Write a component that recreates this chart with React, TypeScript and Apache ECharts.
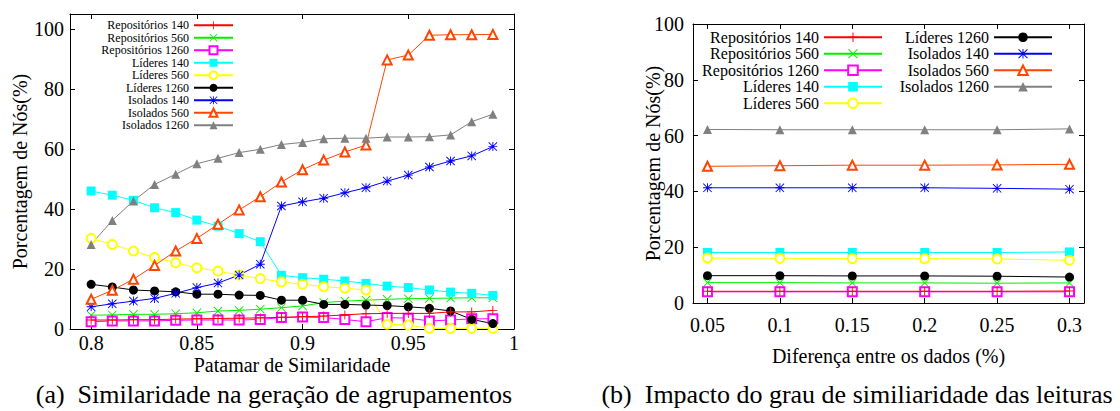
import React, { useEffect, useRef } from "react";
import * as echarts from "echarts";

// ---------- data ----------
const seriesNames = [
  "Repositórios 140",
  "Repositórios 560",
  "Repositórios 1260",
  "Líderes 140",
  "Líderes 560",
  "Líderes 1260",
  "Isolados 140",
  "Isolados 560",
  "Isolados 1260",
];

// (a) similarity threshold
const simX = [0.8, 0.81, 0.82, 0.83, 0.84, 0.85, 0.86, 0.87, 0.88, 0.89, 0.9, 0.91, 0.92, 0.93, 0.94, 0.95, 0.96, 0.97, 0.98, 0.99];
const rep140A = [3.0, 3.0, 3.1, 3.1, 3.3, 3.4, 3.5, 3.6, 3.7, 3.9, 4.1, 4.3, 4.7, 5.1, 5.2, 5.2, 5.2, 5.7, 5.7, 6.2];
const rep560A = [4.6, 4.7, 4.9, 4.9, 5.1, 5.4, 6.0, 6.2, 6.6, 7.1, 7.7, 8.8, 9.3, 9.6, 9.9, 10.1, 10.2, 10.3, 10.4, 10.4];
const rep1260A = [2.4, 2.7, 2.7, 2.7, 2.9, 3.0, 3.0, 3.0, 3.2, 3.8, 4.0, 3.8, 3.2, 2.4, 3.8, 3.6, 2.7, 3.0, 3.4, 3.4];
const lid140A = [46.0, 44.6, 42.9, 40.4, 38.8, 36.3, 34.3, 31.8, 29.1, 17.9, 17.1, 16.6, 16.0, 15.2, 14.3, 13.8, 13.0, 12.3, 11.9, 11.2];
const lid560A = [30.2, 28.2, 26.0, 23.8, 22.1, 20.4, 19.3, 18.0, 16.8, 15.7, 14.9, 14.1, 13.6, 13.0, 1.6, 1.3, 0.2, 0.2, 0.2, 0.2];
const lid1260A = [14.9, 14.0, 13.0, 12.7, 12.4, 11.6, 11.6, 11.3, 11.2, 9.6, 9.6, 8.2, 8.2, 8.0, 7.8, 7.4, 6.9, 6.0, 3.2, 1.8];
const iso140A = [7.4, 8.4, 9.3, 10.2, 11.9, 13.8, 15.3, 18.0, 21.6, 41.0, 42.4, 43.6, 45.4, 47.1, 49.3, 51.3, 54.0, 56.0, 57.7, 60.8];
const iso560A = [9.9, 12.9, 16.6, 21.2, 26.0, 30.2, 34.9, 39.7, 44.1, 49.0, 53.1, 56.3, 59.0, 61.3, 89.7, 91.3, 97.9, 98.1, 98.1, 98.2];
const iso1260A = [28.2, 36.2, 42.7, 48.2, 51.6, 55.1, 56.9, 58.8, 59.9, 61.5, 62.2, 63.4, 63.6, 63.6, 64.0, 64.0, 64.1, 64.7, 69.1, 71.6];

// (b) data difference
const difX = [0.05, 0.1, 0.15, 0.2, 0.25, 0.3];
const rep140B = [4.2, 4.2, 4.2, 4.2, 4.2, 4.3];
const rep560B = [7.3, 7.3, 7.2, 7.2, 7.1, 7.2];
const rep1260B = [4.0, 4.0, 4.0, 4.0, 4.0, 4.0];
const lid140B = [18.1, 18.1, 18.1, 18.1, 18.1, 18.3];
const lid560B = [16.1, 16.0, 15.9, 15.9, 15.8, 15.3];
const lid1260B = [9.8, 9.8, 9.7, 9.7, 9.6, 9.3];
const iso140B = [41.3, 41.3, 41.3, 41.3, 41.1, 40.8];
const iso560B = [49.0, 49.2, 49.4, 49.4, 49.5, 49.7];
const iso1260B = [62.2, 62.1, 62.1, 62.1, 62.1, 62.4];

const simTicks = [0.8, 0.85, 0.9, 0.95, 1];
const difTicks = [0.05, 0.1, 0.15, 0.2, 0.25, 0.3];
const pctTicks = [0, 20, 40, 60, 80, 100];

const seriesA = [rep140A, rep560A, rep1260A, lid140A, lid560A, lid1260A, iso140A, iso560A, iso1260A];
const seriesB = [rep140B, rep560B, rep1260B, lid140B, lid560B, lid1260B, iso140B, iso560B, iso1260B];

// ---------- styles ----------
const PLUS = "M9,0H11V9H20V11H11V20H9V11H0V9H9Z";
const CROSS = "M0,1.41L1.41,0L10,8.59L18.59,0L20,1.41L11.41,10L20,18.59L18.59,20L10,11.41L1.41,20L0,18.59L8.59,10Z";
const STYLES = [
  { color: "#ff0000", symbol: "path://" + PLUS, empty: false, z: 4 },
  { color: "#00ee00", symbol: "path://" + CROSS, empty: false, z: 2 },
  { color: "#ff00ff", symbol: "emptyRect", empty: true, z: 2 },
  { color: "#00ffff", symbol: "rect", empty: false, z: 2 },
  { color: "#ffff00", symbol: "emptyCircle", empty: true, z: 2 },
  { color: "#000000", symbol: "circle", empty: false, z: 2 },
  { color: "#0000ff", symbol: "path://" + PLUS + " " + CROSS, empty: false, z: 2 },
  { color: "#ff4500", symbol: "emptyTriangle", empty: true, z: 2 },
  { color: "#808080", symbol: "triangle", empty: false, z: 2 },
];

const FONT = "Liberation Serif";

function xAxis(gridIndex: number, min: number, max: number, ticks: number[], position: string, labels: boolean, margin: number, name?: string, nameGap?: number) {
  return {
    type: "value",
    gridIndex,
    min,
    max,
    position,
    name: name || "",
    nameLocation: "middle",
    nameGap: nameGap || 0,
    nameMoveOverlap: false,
    nameTextStyle: { fontFamily: FONT, fontSize: 20, color: "#000" },
    axisLine: { show: true, onZero: false, lineStyle: { color: "#000", width: 1 } },
    axisTick: { show: true, inside: true, length: 5, customValues: ticks, lineStyle: { color: "#000" } },
    axisLabel: {
      show: labels,
      customValues: ticks,
      margin,
      fontFamily: FONT,
      fontSize: 20,
      color: "#000",
      formatter: (v: number) => String(v),
    },
    splitLine: { show: false },
  };
}

function yAxis(gridIndex: number, max: number, position: string, labels: boolean, margin: number, name?: string, nameGap?: number) {
  return {
    type: "value",
    gridIndex,
    min: 0,
    max,
    position,
    name: name || "",
    nameLocation: "middle",
    nameGap: nameGap || 0,
    nameMoveOverlap: false,
    nameTextStyle: { fontFamily: FONT, fontSize: 20, color: "#000" },
    axisLine: { show: true, onZero: false, lineStyle: { color: "#000", width: 1 } },
    axisTick: { show: true, inside: true, length: 5, customValues: pctTicks, lineStyle: { color: "#000" } },
    axisLabel: {
      show: labels,
      customValues: pctTicks,
      margin,
      fontFamily: FONT,
      fontSize: 20,
      color: "#000",
    },
    splitLine: { show: false },
  };
}

function makeSeries(values: number[][], xs: number[], xAxisIndex: number, yAxisIndex: number, size: number) {
  return values.map((vals, i) => {
    const st = STYLES[i];
    return {
      type: "line",
      name: seriesNames[i],
      xAxisIndex,
      yAxisIndex,
      z: st.z,
      data: xs.map((x, k) => [x, vals[k]]),
      symbol: st.symbol,
      symbolSize: size,
      showSymbol: true,
      lineStyle: { color: st.color, width: 1 },
      itemStyle: st.empty
        ? { color: st.color, borderColor: st.color, borderWidth: 1.3 }
        : { color: st.color, borderWidth: 0 },
      emphasis: { disabled: true },
    };
  });
}

export default function App() {
  const ref = useRef<HTMLDivElement>(null);
  useEffect(() => {
    if (!ref.current) return;
    const chart = echarts.init(ref.current, null, { renderer: "svg" });
    const option = {
      animation: false,
      backgroundColor: "#fff",
      textStyle: { fontFamily: FONT, color: "#000" },
      grid: [
        { left: 70, top: 14, width: 444, height: 315 },
        { left: 693, top: 24, width: 391, height: 279 },
      ],
      xAxis: [
        xAxis(0, 0.79, 1, simTicks, "bottom", true, 4, "Patamar de Similaridade", 26),
        xAxis(0, 0.79, 1, simTicks, "top", false, 6),
        xAxis(1, 0.04, 0.31, difTicks, "bottom", true, 12, "Diferença entre os dados (%)", 43),
        xAxis(1, 0.04, 0.31, difTicks, "top", false, 6),
      ],
      yAxis: [
        yAxis(0, 105, "left", true, 6, "Porcentagem de Nós(%)", 40),
        yAxis(0, 105, "right", false, 6),
        yAxis(1, 100, "left", true, 9, "Porcentagem de Nós(%)", 30),
        yAxis(1, 100, "right", false, 6),
      ],
      legend: [
        {
          data: seriesNames,
          orient: "vertical",
          left: 101,
          top: 19,
          padding: 0,
          itemGap: 0,
          itemWidth: 39,
          itemHeight: 10,
          align: "right",
          selectedMode: false,
          textStyle: { fontFamily: FONT, fontSize: 12, color: "#000", width: 88, align: "right", lineHeight: 12.5 },
        },
        {
          data: seriesNames.slice(0, 5),
          orient: "vertical",
          left: 700,
          top: 29,
          padding: 0,
          itemGap: 0,
          itemWidth: 58,
          itemHeight: 12,
          align: "right",
          selectedMode: false,
          textStyle: { fontFamily: FONT, fontSize: 16, color: "#000", width: 119, align: "right", lineHeight: 16.5 },
        },
        {
          data: seriesNames.slice(5),
          orient: "vertical",
          left: 892,
          top: 29,
          padding: 0,
          itemGap: 0,
          itemWidth: 58,
          itemHeight: 12,
          align: "right",
          selectedMode: false,
          textStyle: { fontFamily: FONT, fontSize: 16, color: "#000", width: 97, align: "right", lineHeight: 16.5 },
        },
      ],
      graphic: [
        {
          type: "text",
          x: 274,
          y: 394,
          style: { text: "(a)  Similaridade na geração de agrupamentos", fontFamily: FONT, fontSize: 26, fill: "#000", align: "center", verticalAlign: "middle" },
        },
        {
          type: "text",
          x: 857,
          y: 394,
          style: { text: "(b)  Impacto do grau de similiaridade das leituras", fontFamily: FONT, fontSize: 26, fill: "#000", align: "center", verticalAlign: "middle" },
        },
      ],
      series: [
        ...makeSeries(seriesA, simX, 0, 0, 9),
        ...makeSeries(seriesB, difX, 2, 2, 9),
      ],
    };
    chart.setOption(option as any);
    return () => chart.dispose();
  }, []);
  return <div ref={ref} style={{ position: "fixed", left: 0, top: 0, width: 1120, height: 411 }} />;
}
